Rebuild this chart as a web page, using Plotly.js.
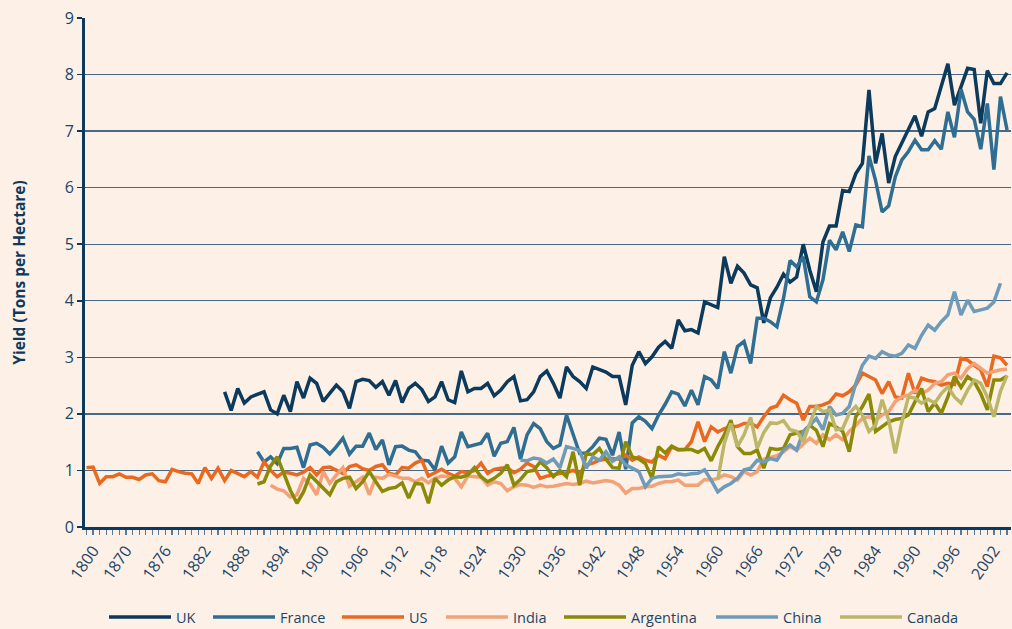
<!DOCTYPE html>
<html>
<head>
<meta charset="utf-8">
<script src="https://cdn.plot.ly/plotly-3.0.1.min.js"></script>
<style>
  html, body { margin: 0; padding: 0; background: #fdf0e6; }
  #chart { width: 1012px; height: 629px; }
</style>
</head>
<body>
<div id="chart"></div>
<script>
// ---- Data (wheat yield, tons per hectare) ----
const seriesNames = ['UK', 'France', 'US', 'India', 'Argentina', 'China', 'Canada'];

const ukStart = 1885;
const ukYield = [2.39, 2.06, 2.45, 2.19, 2.30, 2.35, 2.39, 2.07, 2.00, 2.33, 2.04, 2.57, 2.28, 2.63, 2.54, 2.22, 2.36, 2.51, 2.39, 2.10, 2.57, 2.61, 2.59, 2.47, 2.57,
  2.33, 2.59, 2.20, 2.45, 2.54, 2.43, 2.22, 2.30, 2.57, 2.25, 2.20, 2.76, 2.39, 2.45, 2.45, 2.54, 2.32, 2.42, 2.57, 2.66, 2.23, 2.25, 2.39, 2.66, 2.76, 2.54, 2.28, 2.83, 2.66, 2.57, 2.45, 2.83, 2.78, 2.74, 2.66, 2.66, 2.16,
  2.86, 3.10, 2.89, 3.01, 3.18, 3.28, 3.16, 3.66, 3.47, 3.49, 3.43, 3.98, 3.93, 3.88, 4.78, 4.31, 4.61, 4.49, 4.28, 4.23, 3.61, 4.05, 4.24, 4.47, 4.33, 4.42, 5.00, 4.54, 4.16, 5.04, 5.32, 5.32, 5.95, 5.93, 6.25, 6.43, 7.73, 6.43, 6.96, 6.08, 6.55, 6.79, 7.02, 7.27, 6.91, 7.34, 7.40, 7.79, 8.19, 7.46, 7.80, 8.11, 8.09, 7.14, 8.07, 7.84, 7.84, 8.03];

const franceStart = 1890;
const franceYield = [1.33, 1.15, 1.24, 1.12, 1.39, 1.39, 1.41, 1.05, 1.45, 1.48, 1.41, 1.29, 1.42, 1.57, 1.29, 1.43, 1.43, 1.66, 1.37, 1.54,
  1.10, 1.42, 1.43, 1.36, 1.33, 1.18, 1.17, 1.01, 1.43, 1.13, 1.24, 1.68, 1.42, 1.45, 1.48, 1.66, 1.25, 1.48, 1.51, 1.76, 1.20, 1.63, 1.83, 1.74, 1.51, 1.39, 1.45, 1.98, 1.66, 1.30, 1.31, 1.42, 1.57, 1.55, 1.27, 1.68, 1.02,
  1.84, 1.95, 1.87, 1.74, 1.98, 2.17, 2.39, 2.35, 2.14, 2.42, 2.16, 2.66, 2.60, 2.45, 3.10, 2.72, 3.19, 3.28, 2.89, 3.69, 3.69, 3.63, 3.54, 4.04, 4.71, 4.60, 4.78, 4.07, 3.98, 4.37, 5.07, 4.90, 5.22, 4.87, 5.34, 5.31, 6.56, 6.13, 5.57, 5.68, 6.19, 6.49, 6.64, 6.84, 6.67, 6.67, 6.83, 6.68, 7.34, 6.89, 7.74, 7.34, 7.21, 6.68, 7.49, 6.32, 7.61, 7.02];

const usStart = 1864;
const usYield = [1.05, 1.06, 0.77, 0.89, 0.89, 0.94, 0.88, 0.88, 0.84, 0.92, 0.94, 0.82, 0.80, 1.02, 0.98, 0.95, 0.94, 0.77, 1.05, 0.86, 1.04, 0.82, 1.00, 0.95, 0.89, 0.98, 0.88, 1.15, 1.00, 0.89, 0.97, 0.95, 0.92, 0.97, 1.05, 0.92, 1.05, 1.06, 1.01, 0.95, 1.07, 1.10, 1.03, 1.00, 1.07,
  1.10, 0.95, 0.92, 1.05, 1.04, 1.13, 1.18, 0.90, 0.96, 1.02, 0.95, 0.90, 0.98, 0.96, 1.00, 1.13, 0.95, 1.02, 1.04, 1.05, 0.96, 1.02, 1.13, 1.07, 0.86, 0.90, 0.92, 0.95, 0.96, 1.00, 0.95, 1.10, 1.13, 1.18, 1.20, 1.21, 1.20, 1.27, 1.18, 1.24, 1.18, 1.15, 1.27,
  1.21, 1.42, 1.36, 1.37, 1.51, 1.86, 1.51, 1.77, 1.68, 1.74, 1.77, 1.78, 1.83, 1.83, 1.77, 1.95, 2.10, 2.14, 2.33, 2.25, 2.19, 1.89, 2.13, 2.13, 2.16, 2.21, 2.35, 2.32, 2.39, 2.51, 2.72, 2.66, 2.60, 2.36, 2.57, 2.30, 2.28, 2.72, 2.36, 2.63, 2.59, 2.57, 2.51, 2.54, 2.52, 2.98, 2.95, 2.86, 2.78, 2.48, 3.02, 2.99, 2.86];

const indiaStart = 1892;
const indiaYield = [0.74, 0.67, 0.64, 0.53, 0.57, 0.86, 0.76, 0.57, 0.98, 0.77, 0.92, 1.05, 0.72, 0.80, 0.88, 0.57, 0.88, 0.86,
  0.93, 0.90, 0.86, 0.86, 0.80, 0.86, 0.78, 0.86, 0.90, 0.89, 0.86, 0.71, 0.90, 0.89, 0.88, 0.74, 0.80, 0.77, 0.64, 0.71, 0.75, 0.74, 0.70, 0.74, 0.71, 0.72, 0.74, 0.77, 0.75, 0.77, 0.81, 0.78, 0.80, 0.82, 0.80, 0.74, 0.60, 0.68, 0.68, 0.71, 0.72, 0.77, 0.80, 0.80,
  0.83, 0.74, 0.74, 0.74, 0.84, 0.83, 0.86, 0.92, 0.89, 0.83, 0.98, 0.92, 0.98, 1.20, 1.23, 1.26, 1.33, 1.42, 1.36, 1.47, 1.57, 1.48, 1.63, 1.54, 1.63, 1.54, 1.69, 1.80, 1.92, 1.95, 1.89, 1.98, 2.04, 2.22, 2.30, 2.33, 2.42, 2.36, 2.42, 2.54, 2.57, 2.69, 2.72, 2.63, 2.80, 2.89, 2.81, 2.72, 2.75, 2.78, 2.79];

const argentinaStart = 1890;
const argentinaYield = [0.76, 0.80, 1.08, 1.24, 0.95, 0.65, 0.42, 0.62, 0.92, 0.80, 0.70, 0.57, 0.80, 0.86, 0.88, 0.68, 0.80, 0.98, 0.80, 0.63,
  0.68, 0.70, 0.78, 0.51, 0.77, 0.76, 0.42, 0.86, 0.74, 0.83, 0.89, 0.88, 0.92, 1.05, 0.89, 0.80, 0.86, 0.95, 1.10, 0.74, 0.84, 0.98, 1.00, 1.15, 1.05, 0.89, 1.00, 0.89, 1.33, 0.74, 1.30, 1.28, 1.39, 1.20, 1.05, 1.04, 1.51, 1.24, 1.20, 1.12, 0.86, 1.42, 1.31, 1.43,
  1.37, 1.37, 1.37, 1.32, 1.39, 1.17, 1.42, 1.63, 1.89, 1.42, 1.30, 1.30, 1.36, 1.04, 1.39, 1.37, 1.39, 1.63, 1.66, 1.69, 1.80, 1.71, 1.42, 1.83, 1.77, 1.69, 1.33, 1.95, 2.13, 2.35, 1.69, 1.77, 1.86, 1.90, 1.92, 1.98, 2.22, 2.45, 2.04, 2.19, 2.01, 2.30, 2.66, 2.47, 2.66, 2.57, 2.36, 2.07, 2.60, 2.60, 2.67];

const chinaStart = 1930;
const chinaYield = [1.18, 1.17, 1.22, 1.20, 1.13, 1.20, 1.05, 1.42, 1.39, 1.35, 1.04, 1.24, 1.18, 1.33, 1.16, 1.24, 1.10, 1.04, 0.98, 0.71, 0.86, 0.89, 0.89,
  0.90, 0.94, 0.92, 0.94, 0.95, 1.01, 0.83, 0.62, 0.71, 0.77, 0.86, 1.01, 1.04, 1.18, 1.15, 1.21, 1.18, 1.36, 1.45, 1.36, 1.68, 1.80, 1.92, 1.72, 2.13, 1.98, 2.01, 2.13, 2.54, 2.86, 3.02, 2.98, 3.10, 3.04, 3.02, 3.07, 3.22, 3.16, 3.39, 3.57, 3.48, 3.63, 3.75, 4.16, 3.75, 4.01, 3.81, 3.84, 3.87, 3.98, 4.31];

const canadaStart = 1960;
const canadaYield = [0.83, 1.48, 1.83, 1.42, 1.63, 1.94, 1.39, 1.67, 1.84, 1.83, 1.88, 1.72, 1.69, 1.51, 1.83, 2.13, 2.04, 2.07, 1.72, 1.74, 2.01, 2.13, 1.98, 1.69, 1.80, 2.25, 1.89, 1.30, 1.85, 2.30, 2.28, 2.19, 2.26, 2.19, 2.36, 2.48, 2.30, 2.19, 2.42, 2.60, 2.54, 2.30, 1.95, 2.40, 2.68];

// Axis ticks
const xTickYears = [1865, 1870, 1876, 1882, 1888, 1894, 1900, 1906, 1912, 1918, 1924, 1930, 1936, 1942, 1948, 1954, 1960, 1966, 1972, 1978, 1984, 1990, 1996, 2002];
const xTickLabels = ['1800', '1870', '1876', '1882', '1888', '1894', '1900', '1906', '1912', '1918', '1924', '1930', '1936', '1942', '1948', '1954', '1960', '1966', '1972', '1978', '1984', '1990', '1996', '2002'];
const yTickValues = [0, 1, 2, 3, 4, 5, 6, 7, 8, 9];
const yGridValues = [1, 2, 3, 4, 5, 6, 7, 8];

// ---- Styling ----
const colors = ['#0b3a5c', '#2e6e93', '#e8691f', '#f3a277', '#8a8a06', '#6e9bb9', '#bcb768'];
const starts = [ukStart, franceStart, usStart, indiaStart, argentinaStart, chinaStart, canadaStart];
const values = [ukYield, franceYield, usYield, indiaYield, argentinaYield, chinaYield, canadaYield];
const legendLineStart = [110, 214, 343, 447, 565, 717, 841];

const navy = '#0d3a5c';
const textColor = '#1b4567';
const fontFamily = '"Open Sans", "Noto Sans", sans-serif';

const traces = [{
  x: [], y: [], yaxis: 'y2', type: 'scatter', mode: 'lines', showlegend: false, hoverinfo: 'skip'
}];

const layout = {
  width: 1012, height: 629,
  paper_bgcolor: '#fdf0e6', plot_bgcolor: '#fdf0e6',
  margin: { l: 85, r: 1, t: 18, b: 102 },
  font: { family: fontFamily, color: textColor, size: 14 },
  showlegend: true,
  xaxis: {
    type: 'linear',
    range: [1863.77, 2004.6],
    tickmode: 'array', tickvals: xTickYears, ticktext: xTickLabels,
    tickangle: -55,
    ticks: 'outside', ticklen: 5, tickwidth: 1.2, tickcolor: '#58799a',
    minor: { tickmode: 'linear', tick0: 1864, dtick: 1, ticks: 'outside', ticklen: 5, tickwidth: 1.2, tickcolor: '#58799a', showgrid: false },
    showline: true, linecolor: navy, linewidth: 3,
    showgrid: false, zeroline: false,
    tickfont: { family: fontFamily, size: 16, color: textColor }
  },
  yaxis: {
    range: [0, 9],
    tickmode: 'array', tickvals: yTickValues,
    ticks: 'outside', ticklen: 5, tickwidth: 1.5, tickcolor: navy,
    showline: true, linecolor: navy, linewidth: 3,
    showgrid: false, zeroline: false,
    tickfont: { family: fontFamily, size: 16, color: textColor },
    title: { text: 'Yield (Tons per Hectare)', standoff: 36, font: { family: fontFamily, size: 15.5, color: navy, weight: 'bold' } }
  },
  yaxis2: {
    overlaying: 'y', anchor: 'x', side: 'left',
    range: [0, 9],
    tickmode: 'array', tickvals: yGridValues,
    showticklabels: false, ticks: '',
    showgrid: true, gridcolor: '#46698a', gridwidth: 1.3,
    showline: false, zeroline: false
  }
};

seriesNames.forEach((name, k) => {
  const legendId = k === 0 ? 'legend' : 'legend' + (k + 1);
  traces.push({
    type: 'scatter', mode: 'lines', name: name,
    x: values[k].map((_, i) => starts[k] + i),
    y: values[k],
    line: { color: colors[k], width: 3.5 },
    legend: legendId,
    hovertemplate: name + ' %{x}: %{y}<extra></extra>'
  });
  layout[legendId] = {
    orientation: 'h',
    xref: 'container', yref: 'container',
    x: (legendLineStart[k] - 6) / 1012, xanchor: 'left',
    y: 1 - 617 / 629, yanchor: 'middle',
    bgcolor: 'rgba(0,0,0,0)', borderwidth: 0,
    itemwidth: 62,
    font: { family: fontFamily, size: 14.5, color: textColor }
  };
});

Plotly.newPlot('chart', traces, layout, { displayModeBar: false, staticPlot: true });
</script>
</body>
</html>
